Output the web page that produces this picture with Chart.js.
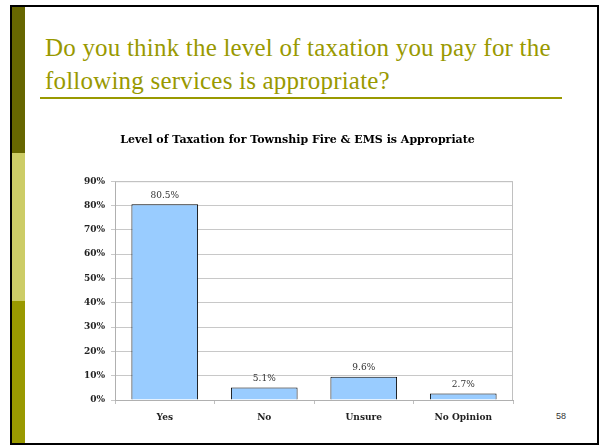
<!DOCTYPE html>
<html>
<head>
<meta charset="utf-8">
<script src="https://cdn.jsdelivr.net/npm/chart.js@4"></script>
<style>
  html, body { margin: 0; padding: 0; background: #fff; }
  #slide { position: relative; width: 600px; height: 447px; overflow: hidden; }
  #frame { position: absolute; left: 10px; top: 5px; width: 585px; height: 436px; border: 2px solid #000; }
  .band { position: absolute; left: 12px; width: 13px; }
  #heading {
    position: absolute; left: 45px; top: 31px; width: 545px;
    font-family: 'Liberation Serif', 'Times New Roman', 'DejaVu Serif', serif;
    font-size: 25px; letter-spacing: 0.2px; line-height: 33px; color: #999900;
  }
  #rule { position: absolute; left: 40px; top: 97px; width: 522px; height: 2px; background: #999900; }
  #pageNo { position: absolute; left: 556px; top: 411px; font-family: 'Liberation Sans', sans-serif; font-size: 9px; color: #333; }
  #chart { position: absolute; left: 0; top: 0; }
</style>
</head>
<body>
<div id="slide">
  <div id="frame"></div>
  <div class="band" style="top:7px;height:146px;background:#666600"></div>
  <div class="band" style="top:153px;height:148px;background:#cccc66"></div>
  <div class="band" style="top:301px;height:142px;background:#999900"></div>
  <div id="heading">Do you think the level of taxation you pay for the following services is appropriate?</div>
  <div id="rule"></div>
  <div id="pageNo">58</div>
  <canvas id="chart" width="600" height="447"></canvas>
</div>
<script>
const categories = ['Yes', 'No', 'Unsure', 'No Opinion'];
const shares = [80.5, 5.1, 9.6, 2.7];
const chartTitle = 'Level of Taxation for Township Fire & EMS is Appropriate';

const serif = "'DejaVu Serif', serif";

// value labels just above each bar
const valueLabels = {
  id: 'valueLabels',
  afterDatasetsDraw(chart) {
    const ctx = chart.ctx;
    const meta = chart.getDatasetMeta(0);
    ctx.save();
    ctx.font = '9px ' + serif;
    ctx.fillStyle = '#333';
    ctx.textAlign = 'center';
    ctx.textBaseline = 'middle';
    meta.data.forEach((bar, i) => {
      ctx.fillText(shares[i].toFixed(1) + '%', bar.x, bar.y - 9);
    });
    ctx.restore();
  },
};

// grey box round the plot area
const plotBox = {
  id: 'plotBox',
  beforeDatasetsDraw(chart) {
    const { ctx, chartArea: a } = chart;
    ctx.save();
    ctx.strokeStyle = '#c0c0c0';
    ctx.lineWidth = 1;
    ctx.beginPath();
    ctx.moveTo(a.left, a.top + 0.5);
    ctx.lineTo(a.right - 0.5, a.top + 0.5);
    ctx.lineTo(a.right - 0.5, a.bottom);
    ctx.stroke();
    ctx.restore();
  },
};

new Chart(document.getElementById('chart'), {
  type: 'bar',
  plugins: [valueLabels, plotBox],
  data: {
    labels: categories,
    datasets: [
      {
        data: shares,
        backgroundColor: '#99ccff',
        borderColor: '#000',
        borderWidth: 1,
        barPercentage: 0.67,
        categoryPercentage: 1,
      },
    ],
  },
  options: {
    responsive: false,
    animation: false,
    layout: { padding: { left: 82, right: 87, top: 0, bottom: 12 } },
    plugins: {
      legend: { display: false },
      tooltip: { enabled: false },
      title: {
        display: true,
        text: chartTitle,
        color: '#000',
        font: { family: serif, size: 11, weight: 'bold' },
        padding: { top: 134, bottom: 34 },
      },
    },
    scales: {
      x: {
        afterFit: (scale) => { scale.height = 35; },
        grid: { drawOnChartArea: false, drawTicks: true, tickLength: 4, color: '#c0c0c0', offset: true },
        border: { color: '#b0b0b0' },
        ticks: {
          color: '#222',
          padding: 8,
          font: { family: serif, size: 9, weight: 'bold' },
        },
      },
      y: {
        min: 0,
        max: 90,
        afterFit: (scale) => { scale.width = 33; },
        grid: { color: '#c8c8c8', tickLength: 4 },
        border: { color: '#b0b0b0' },
        ticks: {
          stepSize: 10,
          color: '#222',
          padding: 6,
          font: { family: serif, size: 9, weight: 'bold' },
          callback: (v) => v + '%',
        },
      },
    },
  },
});
</script>
</body>
</html>
